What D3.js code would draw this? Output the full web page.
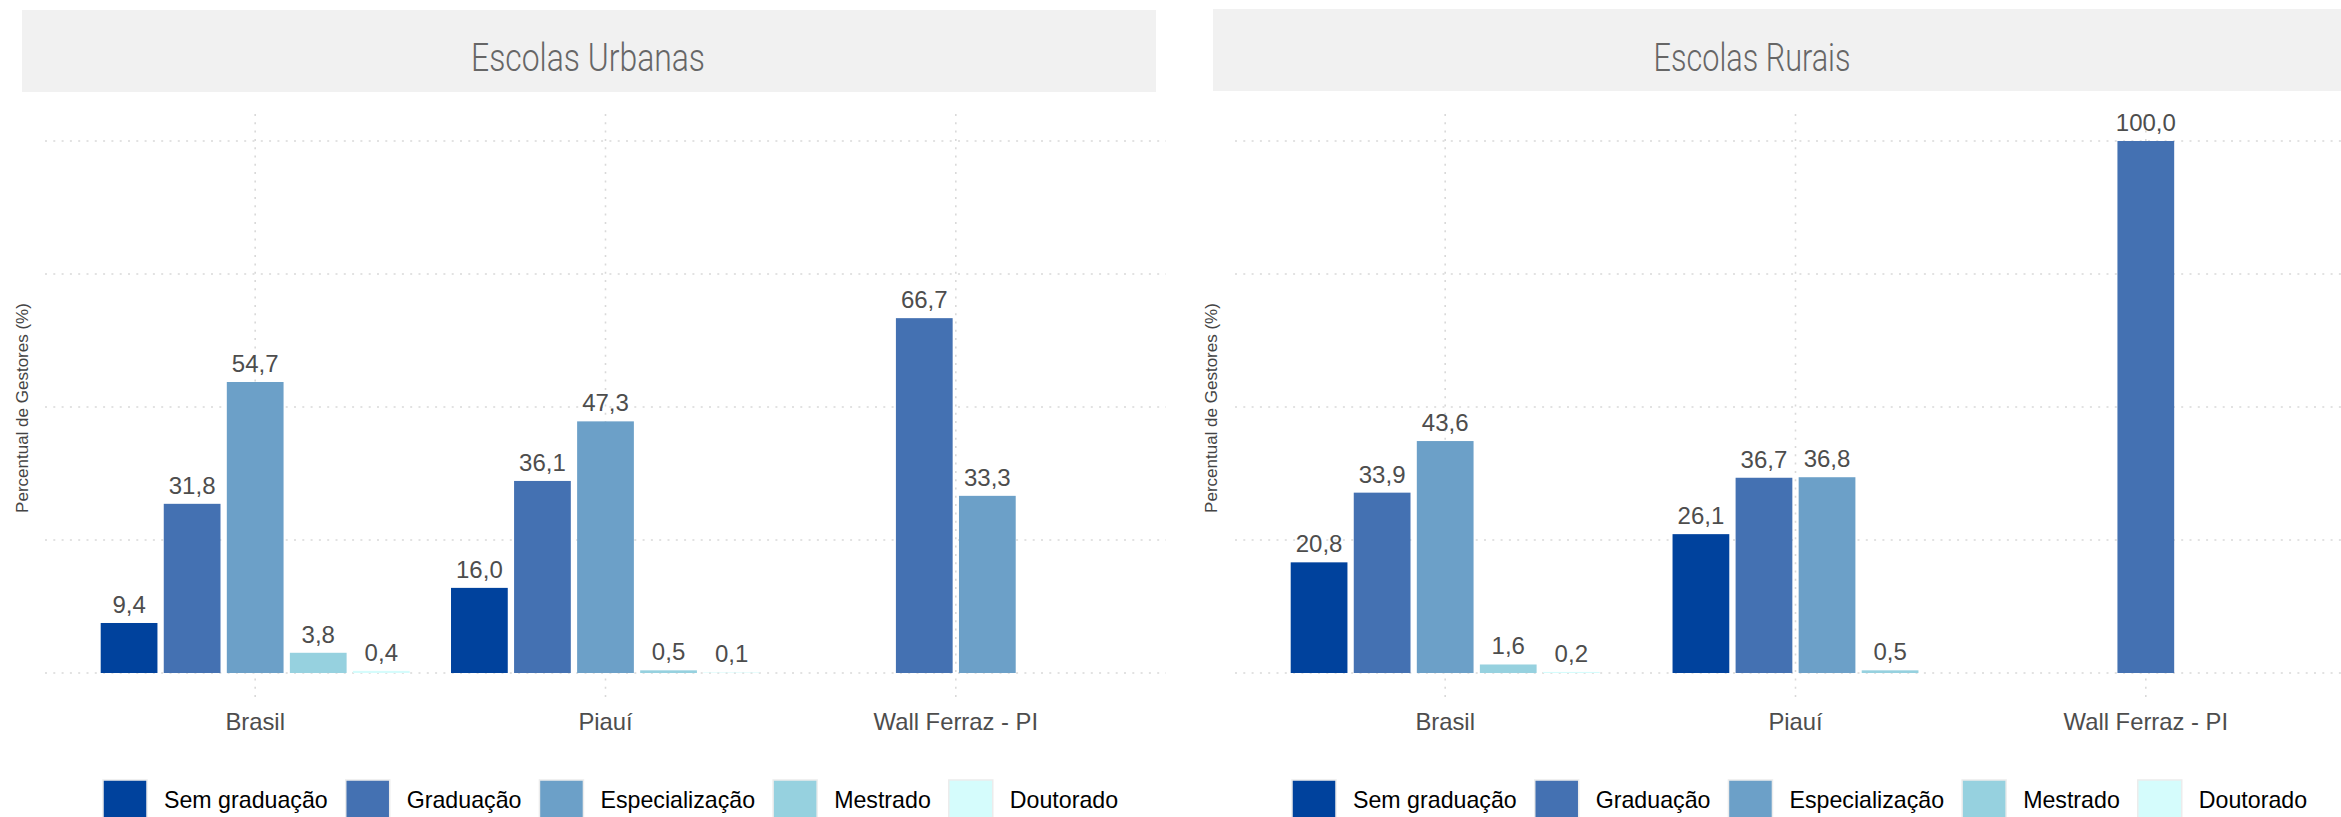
<!DOCTYPE html>
<html>
<head>
<meta charset="utf-8">
<script src="https://cdn.jsdelivr.net/npm/d3@7"></script>
<style>
  html, body { margin: 0; padding: 0; background: #ffffff; }
  svg { display: block; }
</style>
</head>
<body>
<div id="chart"></div>
<script>
// ---------------- DATA ----------------
const categories = ["Brasil", "Piauí", "Wall Ferraz - PI"];
const seriesNames = ["Sem graduação", "Graduação", "Especialização", "Mestrado", "Doutorado"];
const seriesColors = ["#00429d", "#4471b2", "#6ca0c8", "#96d1df", "#d5fcfc"];

// values per category, in the order of seriesNames (null = no bar)
const urbanasBrasil = [9.4, 31.8, 54.7, 3.8, 0.4];
const urbanasPiaui = [16.0, 36.1, 47.3, 0.5, 0.1];
const urbanasWallFerraz = [null, 66.7, 33.3, null, null];

const ruraisBrasil = [20.8, 33.9, 43.6, 1.6, 0.2];
const ruraisPiaui = [26.1, 36.7, 36.8, 0.5, null];
const ruraisWallFerraz = [null, 100.0, null, null, null];

const panelTitles = ["Escolas Urbanas", "Escolas Rurais"];
const yTicks = [0, 25, 50, 75, 100];
const yTitle = "Percentual de Gestores (%)";

// ---------------- LAYOUT ----------------
const W = 2341, H = 817;
const panels = [
  { title: panelTitles[0], values: [urbanasBrasil, urbanasPiaui, urbanasWallFerraz],
    x0: 45, x1: 1166, stripX0: 22, stripX1: 1156, stripY0: 10, stripY1: 92,
    titleX: 588, titleLen: 234, yTitleX: 28, legendX: 103 },
  { title: panelTitles[1], values: [ruraisBrasil, ruraisPiaui, ruraisWallFerraz],
    x0: 1235, x1: 2356, stripX0: 1213, stripX1: 2345, stripY0: 9, stripY1: 91,
    titleX: 1752, titleLen: 197, yTitleX: 1217, legendX: 1292 }
];
const panelTop = 114, panelBottom = 700;

const y = d3.scaleLinear().domain([0, 100]).range([673, 141]);
const fmt = v => d3.format(".1f")(v).replace(".", ",");

const svg = d3.select("#chart").append("svg")
  .attr("width", W).attr("height", H)
  .attr("font-family", "'Liberation Sans', Arial, Helvetica, sans-serif");

svg.append("rect").attr("width", W).attr("height", H).attr("fill", "#ffffff");

const gridColor = "#d9d9d9";

panels.forEach(p => {
  const g = svg.append("g");

  // strip
  g.append("rect")
    .attr("x", p.stripX0).attr("y", p.stripY0)
    .attr("width", p.stripX1 - p.stripX0).attr("height", p.stripY1 - p.stripY0)
    .attr("fill", "#f1f1f1");
  g.append("text")
    .attr("x", p.titleX).attr("y", 71)
    .attr("text-anchor", "middle")
    .attr("font-family", "Roboto, 'Liberation Sans', sans-serif")
    .attr("font-weight", 300)
    .attr("font-size", 39)
    .attr("fill", "#666666")
    .attr("textLength", p.titleLen)
    .attr("lengthAdjust", "spacingAndGlyphs")
    .text(p.title);

  const x = d3.scaleBand().domain(categories).range([p.x0, p.x1])
    .paddingInner(0).paddingOuter(0.1);
  const step = x.step();
  const slot = step * 0.9 / seriesNames.length;

  // horizontal gridlines
  g.selectAll(".hgrid").data(yTicks).join("line")
    .attr("x1", p.x0).attr("x2", p.x1)
    .attr("y1", d => y(d)).attr("y2", d => y(d))
    .attr("stroke", gridColor).attr("stroke-width", 1.6)
    .attr("stroke-dasharray", "2,6.3");

  // vertical gridlines
  g.selectAll(".vgrid").data(categories).join("line")
    .attr("x1", d => x(d) + x.bandwidth() / 2).attr("x2", d => x(d) + x.bandwidth() / 2)
    .attr("y1", panelTop).attr("y2", panelBottom)
    .attr("stroke", gridColor).attr("stroke-width", 1.6)
    .attr("stroke-dasharray", "2,6.3");

  // bars
  categories.forEach((cat, ci) => {
    const vals = p.values[ci];
    const present = seriesNames.map((s, si) => ({ s, si, v: vals[si] }))
      .filter(d => d.v !== null && d.v !== undefined);
    const n = present.length;
    const cx = x(cat) + x.bandwidth() / 2;
    const inner = d3.scaleBand().domain(present.map(d => d.s))
      .range([cx - n * slot / 2, cx + n * slot / 2])
      .paddingInner(0.1).paddingOuter(0.05);

    g.selectAll(null).data(present).join("rect")
      .attr("x", d => inner(d.s))
      .attr("width", inner.bandwidth())
      .attr("y", d => y(d.v))
      .attr("height", d => y(0) - y(d.v))
      .attr("fill", d => seriesColors[d.si]);

    g.selectAll(null).data(present).join("text")
      .attr("x", d => inner(d.s) + inner.bandwidth() / 2)
      .attr("y", d => y(d.v) - 10)
      .attr("text-anchor", "middle")
      .attr("font-size", 24)
      .attr("fill", "#4d4d4d")
      .text(d => fmt(d.v));
  });

  // x axis labels
  g.selectAll(".xlab").data(categories).join("text")
    .attr("x", d => x(d) + x.bandwidth() / 2)
    .attr("y", 730)
    .attr("text-anchor", "middle")
    .attr("font-size", 23.8)
    .attr("fill", "#4d4d4d")
    .text(d => d);

  // y axis title
  g.append("text")
    .attr("transform", `translate(${p.yTitleX},408) rotate(-90)`)
    .attr("text-anchor", "middle")
    .attr("font-size", 17)
    .attr("fill", "#444444")
    .text(yTitle);

  // legend
  const lg = g.append("g");
  let cursor = p.legendX;
  seriesNames.forEach((s, si) => {
    lg.append("rect")
      .attr("x", cursor).attr("y", 780)
      .attr("width", 44).attr("height", 44)
      .attr("fill", seriesColors[si])
      .attr("stroke", "#ececec").attr("stroke-width", 1.5);
    const t = lg.append("text")
      .attr("x", cursor + 44 + 17).attr("y", 808)
      .attr("font-size", 23.2)
      .attr("fill", "#000000")
      .text(s);
    const tw = t.node().getComputedTextLength();
    cursor = cursor + 44 + 17 + tw + 18;
  });
});
</script>
</body>
</html>
